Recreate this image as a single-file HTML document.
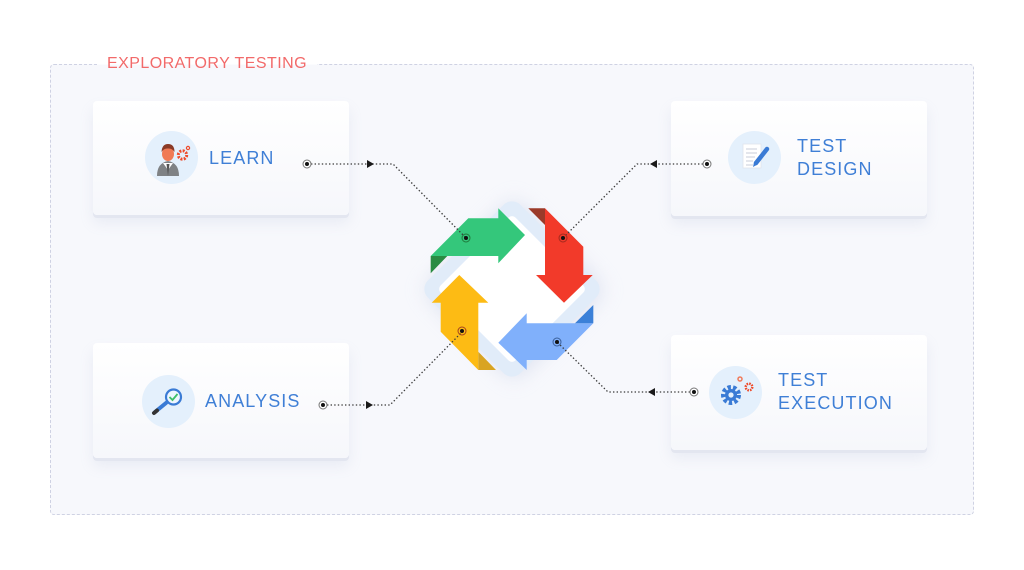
<!DOCTYPE html>
<html><head><meta charset="utf-8">
<style>
html,body{margin:0;padding:0;background:#fff;}
body{width:1024px;height:570px;position:relative;overflow:hidden;font-family:"Liberation Sans",sans-serif;}
.box{position:absolute;left:50px;top:64px;width:922px;height:449px;border:1px dashed #cfd2e3;border-radius:4px;background:#f7f8fc;}
.title{position:absolute;left:97px;top:54px;padding:0 10px;background:linear-gradient(#fff 10px,#f7f8fc 11px);color:#f26a6a;font-size:16px;letter-spacing:0.45px;line-height:20px;}
.card{position:absolute;width:256px;border-radius:4px;background:linear-gradient(#ffffff,#f6f7fb);box-shadow:0 3px 0 #e3e6f0,0 8px 14px rgba(150,160,200,0.14);}
.circ{position:absolute;width:53px;height:53px;border-radius:50%;background:#e4f0fc;}
.lbl{position:absolute;color:#3f7fd6;font-size:18px;letter-spacing:1.1px;line-height:23px;}
svg{position:absolute;left:0;top:0;}
</style></head><body>
<div class="box"></div>
<div class="title">EXPLORATORY TESTING</div>

<div class="card" style="left:93px;top:101px;height:114px;"></div>
<div class="card" style="left:671px;top:101px;height:115px;"></div>
<div class="card" style="left:93px;top:343px;height:115px;"></div>
<div class="card" style="left:671px;top:335px;height:115px;"></div>

<div class="circ" style="left:145px;top:131px;"></div>
<div class="circ" style="left:728px;top:131px;"></div>
<div class="circ" style="left:142px;top:375px;"></div>
<div class="circ" style="left:709px;top:366px;"></div>

<div class="lbl" style="left:209px;top:147px;">LEARN</div>
<div class="lbl" style="left:797px;top:135px;">TEST<br>DESIGN</div>
<div class="lbl" style="left:205px;top:390px;">ANALYSIS</div>
<div class="lbl" style="left:778px;top:369px;">TEST<br>EXECUTION</div>

<svg width="1024" height="570" viewBox="0 0 1024 570">
<defs>
<filter id="sh" x="-50%" y="-50%" width="200%" height="200%"><feGaussianBlur stdDeviation="10"/></filter>
</defs>
<!-- center shadow -->
<rect x="446" y="223" width="132" height="132" rx="14" fill="#c9d0e6" opacity="0.55" transform="rotate(45 512 292)" filter="url(#sh)"/>
<!-- light blue base -->
<rect x="446.5" y="223.5" width="131" height="131" rx="12" fill="#e1ecf9" transform="rotate(45 512 289)"/>
<rect x="459" y="236" width="106" height="106" rx="5" fill="#ffffff" transform="rotate(45 512 289)"/>

<!-- green arrow -->
<polygon points="430.7,256 468.3,218.3 498.3,218.3 498.3,208.3 525,235 498.3,263.3 498.3,256" fill="#34c77b"/>
<polygon points="430.7,256 447.3,256 430.7,273.3" fill="#2a8b43"/>
<!-- red arrow -->
<polygon points="545,208.3 583.3,246.7 583.3,275 592.7,275 564,302.7 536,275 545,275" fill="#f23a2a"/>
<polygon points="528.3,208.3 545,208.3 545,225" fill="#9b3a29"/>
<!-- blue arrow -->
<polygon points="593.3,323.3 556.7,360 526.7,360 526.7,370 498.3,342.7 526.7,313.3 526.7,323.3" fill="#80b0fb"/>
<polygon points="593.3,305 593.3,323.3 575,323.3" fill="#3b80d8"/>
<!-- yellow arrow -->
<polygon points="478.3,370 440.7,331.7 440.7,302.7 431.7,302.7 459.3,275 488.3,302.7 478.3,302.7" fill="#fdbb14"/>
<polygon points="478.3,351.7 478.3,370 496,370" fill="#d9a421"/>

<!-- connectors -->
<g fill="none" stroke="#3a3a3a" stroke-width="1.3" stroke-dasharray="1.4 2.2">
<polyline points="311,164 393,164 466,238"/>
<polyline points="703,164 637,164 563,238"/>
<polyline points="327,405 390,405 463,331"/>
<polyline points="690,392 608,392 557,342"/>
</g>
<g fill="#1a1a1a">
<polygon points="367,160 374,164 367,168"/>
<polygon points="657,160 650,164 657,168"/>
<polygon points="366,401 373,405 366,409"/>
<polygon points="655,388 648,392 655,396"/>
</g>
<!-- endpoint markers -->
<g>
<circle cx="307" cy="164" r="4" fill="#fff" stroke="#777" stroke-width="1"/><circle cx="307" cy="164" r="2" fill="#111"/>
<circle cx="707" cy="164" r="4" fill="#fff" stroke="#777" stroke-width="1"/><circle cx="707" cy="164" r="2" fill="#111"/>
<circle cx="323" cy="405" r="4" fill="#fff" stroke="#777" stroke-width="1"/><circle cx="323" cy="405" r="2" fill="#111"/>
<circle cx="694" cy="392" r="4" fill="#fff" stroke="#777" stroke-width="1"/><circle cx="694" cy="392" r="2" fill="#111"/>
<circle cx="466" cy="238" r="4" fill="none" stroke="#1f7a3c" stroke-width="1"/><circle cx="466" cy="238" r="2" fill="#111"/>
<circle cx="563" cy="238" r="4" fill="none" stroke="#a52a1e" stroke-width="1"/><circle cx="563" cy="238" r="2" fill="#111"/>
<circle cx="462" cy="331" r="4" fill="none" stroke="#a5421e" stroke-width="1"/><circle cx="462" cy="331" r="2" fill="#111"/>
<circle cx="557" cy="342" r="4" fill="none" stroke="#3a5f9a" stroke-width="1"/><circle cx="557" cy="342" r="2" fill="#111"/>
</g>

<!-- LEARN icon -->
<path d="M157,176 Q157,163 168,161 Q179,163 179,176 Z" fill="#7f8285"/>
<path d="M163,163 L168,170 L173,163 Z" fill="#fff"/>
<path d="M166.5,164 L168,176 L169.5,164 Z" fill="#555"/>
<ellipse cx="168" cy="154" rx="6" ry="7" fill="#f07a55"/>
<path d="M161.5,152 Q162,144 168,144 Q174.5,144 174.5,152 Q172,148 168,148.5 Q164,148 161.5,152 Z" fill="#8a3a26"/>
<circle cx="182.5" cy="155" r="4.2" fill="none" stroke="#ee4b2b" stroke-width="3" stroke-dasharray="2 1.3"/>
<circle cx="182.5" cy="155" r="2.2" fill="#e4f0fc"/>
<circle cx="188" cy="148" r="1.6" fill="none" stroke="#ee4b2b" stroke-width="1.2"/>

<!-- TEST DESIGN icon -->
<rect x="743" y="144" width="18" height="24" fill="#fff" stroke="#e0e4ec" stroke-width="0.8"/>
<g stroke="#c8cdd8" stroke-width="1">
<line x1="746" y1="149" x2="757" y2="149"/><line x1="746" y1="153" x2="757" y2="153"/>
<line x1="746" y1="157" x2="755" y2="157"/><line x1="746" y1="161" x2="753" y2="161"/><line x1="746" y1="165" x2="753" y2="165"/>
</g>
<line x1="756" y1="163" x2="767" y2="149" stroke="#3a7bd5" stroke-width="4.5" stroke-linecap="round"/>
<polygon points="753,167 754.2,161.6 757.8,164.4" fill="#3a7bd5"/>

<!-- ANALYSIS icon -->
<line x1="155" y1="412" x2="166" y2="403" stroke="#3a7bd5" stroke-width="4" stroke-linecap="round"/>
<line x1="154" y1="413" x2="157" y2="410.5" stroke="#333" stroke-width="4" stroke-linecap="round"/>
<circle cx="173.5" cy="397" r="7.5" fill="#eef6ff" stroke="#3a7bd5" stroke-width="2.2"/>
<polyline points="169.5,397 172.5,400 177.5,394" fill="none" stroke="#3fbf6a" stroke-width="1.8"/>

<!-- EXEC icon -->
<circle cx="731" cy="395" r="7.5" fill="none" stroke="#3a7bd5" stroke-width="5" stroke-dasharray="3.2 2.1"/>
<circle cx="731" cy="395" r="6" fill="#3a7bd5"/>
<circle cx="731" cy="395" r="2.6" fill="#e4f0fc"/>
<circle cx="749" cy="387" r="3.3" fill="none" stroke="#ee4b2b" stroke-width="2.4" stroke-dasharray="1.6 1"/>
<circle cx="749" cy="387" r="1.4" fill="#e4f0fc"/>
<circle cx="740" cy="379" r="2" fill="none" stroke="#f07a5a" stroke-width="1.5"/>
</svg>
</body></html>
